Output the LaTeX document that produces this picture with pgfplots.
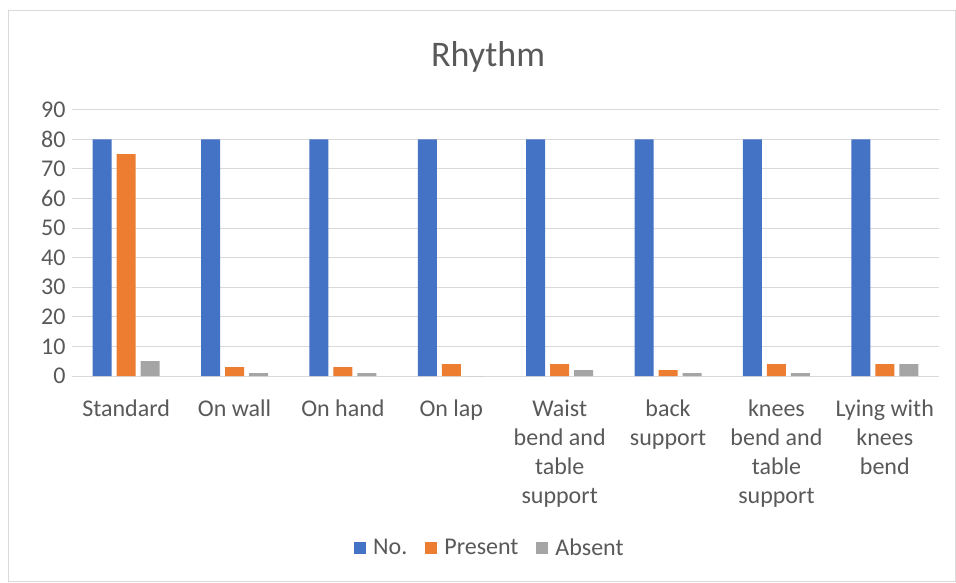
\documentclass[border=0pt]{standalone}
\usepackage{fontspec}
\setmainfont{Carlito}
\usepackage{pgfplots}
\pgfplotsset{compat=1.18}

\definecolor{cBlue}{HTML}{4472C4}
\definecolor{cOrange}{HTML}{ED7D31}
\definecolor{cGray}{HTML}{A5A5A5}
\definecolor{cGrid}{HTML}{D9D9D9}
\definecolor{cText}{HTML}{595959}

\begin{document}
\begin{tikzpicture}[x=1pt,y=1pt]
\useasboundingbox (0,0) rectangle (956,-582);
\draw[cGrid, line width=1pt] (8,-10) rectangle (955,-581);
\begin{axis}[
  at={(72pt,-376pt)}, anchor=south west,
  scale only axis,
  width=867pt, height=266.3pt,
  ymin=0, ymax=90,
  xmin=-0.5, xmax=7.5,
  ytick={0,10,...,90},
  xtick={0,...,7},
  xticklabels={Standard, On wall, On hand, On lap,
    {Waist\\bend and\\table\\support}, {back\\support},
    {knees\\bend and\\table\\support}, {Lying with\\knees\\bend}},
  major tick length=0pt,
  axis line style={draw=none},
  ymajorgrids, grid style={cGrid, line width=1pt},
  ybar=5pt, bar width=19pt,
  /pgf/number format/assume math mode=true,
  every tick label/.append style={font=\fontsize{24}{29}\selectfont, text=cText},
  yticklabel style={xshift=-3pt},
  xticklabel style={align=center, yshift=-20pt},
  title={Rhythm},
  title style={at={(0.48,1.175)}, anchor=center, font=\fontsize{36}{40}\selectfont, text=cText},
  legend style={at={(0.482,-0.646)}, anchor=center, draw=none,
    legend columns=-1, font=\fontsize{24}{29}\selectfont, text=cText,
    /tikz/every odd column/.append style={column sep=5pt},
    /tikz/every even column/.append style={column sep=16pt}},
  legend image code/.code={\fill[#1] (0pt,-6pt) rectangle (12pt,6pt);},
]
\addplot[fill=cBlue, draw=none] coordinates {(0,80) (1,80) (2,80) (3,80) (4,80) (5,80) (6,80) (7,80)};
\addplot[fill=cOrange, draw=none] coordinates {(0,75) (1,3) (2,3) (3,4) (4,4) (5,2) (6,4) (7,4)};
\addplot[fill=cGray, draw=none] coordinates {(0,5) (1,1) (2,1) (3,0) (4,2) (5,1) (6,1) (7,4)};
\legend{No., Present, Absent}
\end{axis}
\end{tikzpicture}
\end{document}
